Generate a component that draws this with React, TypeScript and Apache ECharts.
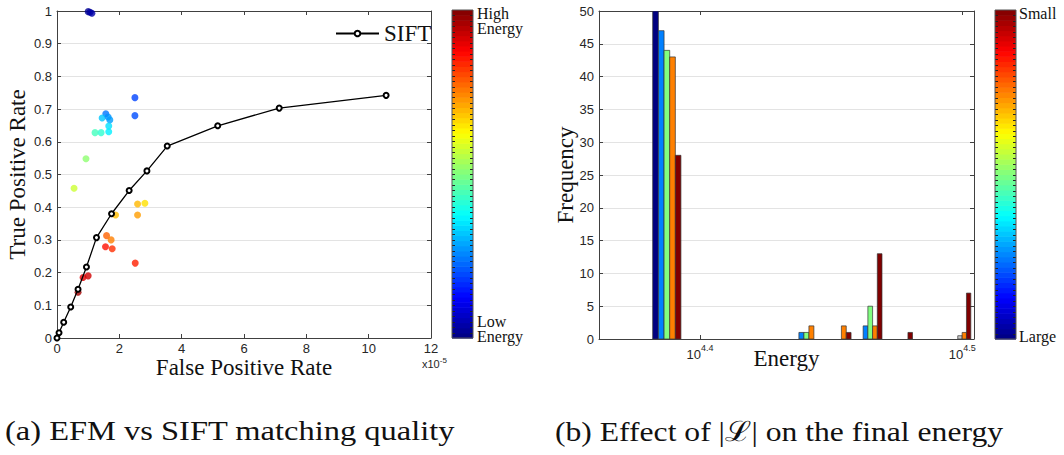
import React, { useEffect, useRef } from 'react';
import * as echarts from 'echarts';

// ---------- Left panel data ----------
const siftFpr = [0, 0.065, 0.215, 0.44, 0.675, 0.945, 1.267, 1.75, 2.315, 2.885, 3.537, 5.157, 7.13, 10.56];
const siftTpr = [0, 0.016, 0.048, 0.095, 0.149, 0.217, 0.307, 0.38, 0.451, 0.511, 0.587, 0.649, 0.703, 0.742];

const efmFpr = [1.0, 1.06, 1.12, 2.5, 2.5, 1.566, 1.447, 1.64, 1.695, 1.66, 1.66, 1.22, 1.415, 0.93, 0.547, 1.88, 2.585, 2.82, 2.585, 1.59, 1.736, 1.556, 1.77, 2.51, 0.836, 1.0, 0.675];
const efmTpr = [0.998, 0.996, 0.993, 0.735, 0.68, 0.686, 0.673, 0.676, 0.667, 0.648, 0.631, 0.628, 0.628, 0.548, 0.458, 0.376, 0.41, 0.412, 0.376, 0.313, 0.3, 0.279, 0.273, 0.229, 0.185, 0.19, 0.14];
const efmEnergy = [0.02, 0.03, 0.04, 0.19, 0.2, 0.24, 0.32, 0.27, 0.28, 0.345, 0.36, 0.44, 0.42, 0.515, 0.575, 0.69, 0.695, 0.655, 0.72, 0.78, 0.75, 0.86, 0.83, 0.845, 0.905, 0.92, 0.967];

const fprTicks = [0, 2, 4, 6, 8, 10, 12];
const tprTicks = [0, 0.1, 0.2, 0.3, 0.4, 0.5, 0.6, 0.7, 0.8, 0.9, 1];

// ---------- Right panel data ----------
const binEnergy = [24400, 27580, 28380, 29170, 29970, 31560];
const freqSet1 = [50, 0, 0, 0, 0, 0];
const freqSet2 = [47, 1, 0, 2, 0, 0];
const freqSet3 = [44, 1, 0, 5, 0, 0.5];
const freqSet4 = [43, 2, 2, 2, 0, 1];
const freqSet5 = [28, 0, 1, 13, 1, 7];
const freqSets = [freqSet1, freqSet2, freqSet3, freqSet4, freqSet5];
const setColorPos = [0, 0.25, 0.5, 0.75, 1];
const energyTicksLog = [4.4, 4.5];
const freqTicks = [0, 5, 10, 15, 20, 25, 30, 35, 40, 45, 50];

const barStep = 121;

const SERIF = "'Liberation Serif', 'DejaVu Serif', serif";
const SANS = "'Liberation Sans', Arial, sans-serif";
const AXC = '#404040';
const TXT = '#262626';

function clamp(v: number) { return Math.max(0, Math.min(1, v)); }
function jet(t: number): string {
  const r = clamp(Math.min(4 * t - 1.5, -4 * t + 4.5));
  const g = clamp(Math.min(4 * t - 0.5, -4 * t + 3.5));
  const b = clamp(Math.min(4 * t + 0.5, -4 * t + 2.5));
  const h = (x: number) => Math.round(x * 255).toString(16).padStart(2, '0');
  return '#' + h(r) + h(g) + h(b);
}
const jetStops = [0, 1, 2, 3, 4, 5, 6, 7, 8].map((i) => jet(i / 8));

function colorbar(x: number, y: number, w: number, h: number) {
  const children: any[] = [];
  const n = 64;
  for (let i = 0; i < n; i++) {
    const t = (i + 0.5) / n;
    const y0 = y + h - ((i + 1) * h) / n;
    children.push({ type: 'rect', shape: { x, y: y0, width: w, height: h / n + 0.6 }, style: { fill: jet(t) }, silent: true });
  }
  const nt = 60;
  for (let i = 1; i < nt; i++) {
    const yy = Math.round(y + (i * h) / nt) + 0.5;
    children.push({ type: 'line', shape: { x1: x, y1: yy, x2: x + 3, y2: yy }, style: { stroke: '#222', lineWidth: 1 }, silent: true });
    children.push({ type: 'line', shape: { x1: x + w - 3, y1: yy, x2: x + w, y2: yy }, style: { stroke: '#222', lineWidth: 1 }, silent: true });
  }
  children.push({ type: 'rect', shape: { x, y, width: w, height: h }, style: { fill: 'none', stroke: '#555', lineWidth: 1 }, silent: true });
  return { type: 'group', children };
}

function App() {
  const ref = useRef<HTMLDivElement>(null);
  useEffect(() => {
    if (!ref.current) return;
    const chart = echarts.init(ref.current, null, { renderer: 'svg' });

    const gridL = { left: 57, top: 11, width: 374, height: 327 };
    const gridR = { left: 599, top: 11, width: 375, height: 328 };

    const tickStyle = { show: true, inside: true, length: 4, lineStyle: { color: AXC, width: 1 } };
    const lineStyle = { show: true, onZero: false, lineStyle: { color: AXC, width: 1 } };
    const labelStyle = { color: TXT, fontFamily: SANS, fontSize: 13 };
    const nameStyle = { fontFamily: SERIF, fontSize: 23, color: '#111' };

    const barSeries = freqSets.map((arr, k) => ({
      type: 'custom',
      name: 'set' + k,
      xAxisIndex: 2,
      yAxisIndex: 2,
      clip: true,
      data: binEnergy.map((e, i) => [e, arr[i]]),
      encode: { x: 0, y: 1 },
      renderItem: (params: any, api: any) => {
        const e = api.value(0);
        const v = api.value(1);
        if (!v) return null;
        const lo = Math.log10(e + (k - 2.5) * barStep);
        const hi = Math.log10(e + (k - 1.5) * barStep);
        const p0 = api.coord([lo, 0]);
        const p1 = api.coord([hi, v]);
        return {
          type: 'rect',
          shape: { x: p0[0], y: p1[1], width: p1[0] - p0[0], height: p0[1] - p1[1] },
          style: { fill: k === 2 && v < 1 ? '#c8c8c8' : jet(setColorPos[k]), stroke: '#333', lineWidth: 0.7 },
        };
      },
    }));

    const option: any = {
      animation: false,
      backgroundColor: '#fff',
      grid: [gridL, gridR],
      legend: {
        data: ['SIFT'],
        left: 335,
        top: 22,
        padding: 0,
        itemWidth: 43,
        itemHeight: 7,
        textStyle: { fontFamily: SERIF, fontSize: 23, color: '#111' },
      },
      visualMap: {
        show: false,
        type: 'continuous',
        seriesIndex: 0,
        dimension: 2,
        min: 0,
        max: 1,
        inRange: { color: jetStops },
      },
      xAxis: [
        {
          type: 'value', gridIndex: 0, position: 'bottom', min: 0, max: 12, interval: 2,
          axisLine: lineStyle, axisTick: tickStyle, splitLine: { show: false },
          axisLabel: { ...labelStyle, margin: 4 },
          name: 'False Positive Rate', nameLocation: 'middle', nameGap: 18, nameMoveOverlap: false,
          nameTextStyle: nameStyle,
        },
        {
          type: 'value', gridIndex: 0, position: 'top', min: 0, max: 12, interval: 2,
          axisLine: lineStyle, axisTick: tickStyle, splitLine: { show: false }, axisLabel: { show: false },
        },
        {
          type: 'value', gridIndex: 1, position: 'bottom', min: 4.3615, max: 4.5045,
          axisLine: lineStyle,
          axisTick: { ...tickStyle, customValues: energyTicksLog },
          splitLine: { show: false },
          axisLabel: {
            margin: 4,
            customValues: energyTicksLog,
            formatter: (v: number) => '{b|10}{s|' + v.toFixed(1) + '}',
            rich: {
              b: { fontFamily: SANS, fontSize: 13, color: TXT, verticalAlign: 'bottom', lineHeight: 18 },
              s: { fontFamily: SANS, fontSize: 9, color: TXT, verticalAlign: 'top', lineHeight: 18 },
            },
          },
          name: 'Energy', nameLocation: 'middle', nameGap: 8, nameMoveOverlap: false,
          nameTextStyle: nameStyle,
        },
        {
          type: 'value', gridIndex: 1, position: 'top', min: 4.3615, max: 4.5045,
          axisLine: lineStyle,
          axisTick: { ...tickStyle, customValues: energyTicksLog },
          splitLine: { show: false }, axisLabel: { show: false },
        },
      ],
      yAxis: [
        {
          type: 'value', gridIndex: 0, position: 'left', min: 0, max: 1, interval: 0.1,
          axisLine: lineStyle, axisTick: tickStyle,
          splitLine: { show: true, lineStyle: { color: '#e3e3e3', width: 1 } },
          axisLabel: { ...labelStyle, margin: 5, formatter: (v: number) => String(Math.round(v * 10) / 10) },
          name: 'True Positive Rate', nameLocation: 'middle', nameGap: 28, nameMoveOverlap: false,
          nameTextStyle: nameStyle,
        },
        {
          type: 'value', gridIndex: 0, position: 'right', min: 0, max: 1, interval: 0.1,
          axisLine: lineStyle, axisTick: tickStyle, splitLine: { show: false }, axisLabel: { show: false },
        },
        {
          type: 'value', gridIndex: 1, position: 'left', min: 0, max: 50, interval: 5,
          axisLine: lineStyle, axisTick: tickStyle,
          splitLine: { show: true, lineStyle: { color: '#e3e3e3', width: 1 } },
          axisLabel: { ...labelStyle, margin: 5 },
          name: 'Frequency', nameLocation: 'middle', nameGap: 22, nameMoveOverlap: false,
          nameTextStyle: nameStyle,
        },
        {
          type: 'value', gridIndex: 1, position: 'right', min: 0, max: 50, interval: 5,
          axisLine: lineStyle, axisTick: tickStyle, splitLine: { show: false }, axisLabel: { show: false },
        },
      ],
      series: [
        {
          type: 'scatter',
          name: 'EFM',
          xAxisIndex: 0,
          yAxisIndex: 0,
          symbolSize: 7,
          data: efmFpr.map((x, i) => [x, efmTpr[i], efmEnergy[i]]),
          z: 2,
        },
        {
          type: 'line',
          name: 'SIFT',
          xAxisIndex: 0,
          yAxisIndex: 0,
          data: siftFpr.map((x, i) => [x, siftTpr[i]]),
          symbol: 'emptyCircle',
          symbolSize: 5,
          showAllSymbol: true,
          itemStyle: { color: '#000', borderColor: '#000', borderWidth: 1 },
          lineStyle: { color: '#000', width: 1.3 },
          z: 3,
        },
        ...barSeries,
      ],
      graphic: [
        colorbar(452, 10, 21, 328),
        colorbar(995, 10, 21, 329),
        {
          type: 'text', left: 477, top: 5,
          style: { text: 'High\nEnergy', font: `16px ${SERIF}`, lineHeight: 15, fill: '#111' },
        },
        {
          type: 'text', left: 477, top: 313,
          style: { text: 'Low\nEnergy', font: `16px ${SERIF}`, lineHeight: 15, fill: '#111' },
        },
        {
          type: 'text', left: 1019, top: 5,
          style: { text: 'Small', font: `16px ${SERIF}`, fill: '#111' },
        },
        {
          type: 'text', left: 1019, top: 328,
          style: { text: 'Large', font: `16px ${SERIF}`, fill: '#111' },
        },
        {
          type: 'text', left: 422, top: 356,
          style: {
            text: '{a|x10}{b|-5}',
            rich: {
              a: { fontFamily: SANS, fontSize: 11, fill: TXT, verticalAlign: 'bottom', lineHeight: 13 },
              b: { fontFamily: SANS, fontSize: 8, fill: TXT, verticalAlign: 'top', lineHeight: 13 },
            },
          },
        },
        {
          type: 'text', x: 5, y: 417, scaleX: 1.16,
          style: { text: '(a) EFM vs SIFT matching quality', font: `28px ${SERIF}`, fill: '#111' },
        },
        {
          type: 'text', x: 555, y: 417, scaleX: 1.13,
          style: { text: '(b) Effect of |ℒ| on the final energy', font: `28px ${SERIF}`, fill: '#111' },
        },
      ],
    };
    chart.setOption(option);
    return () => chart.dispose();
  }, []);
  return <div ref={ref} style={{ position: 'absolute', left: 0, top: 0, width: 1064, height: 455 }} />;
}

export default App;
